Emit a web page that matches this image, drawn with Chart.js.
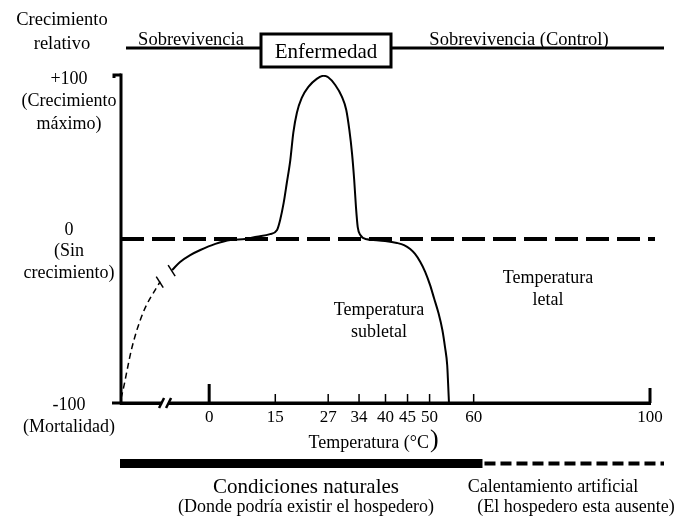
<!DOCTYPE html>
<html><head><meta charset="utf-8">
<script src="https://cdn.jsdelivr.net/npm/chart.js@4.4.0/dist/chart.umd.min.js"></script>
<style>html,body{margin:0;padding:0;background:#fff}canvas{display:block}</style>
</head><body>
<canvas id="c" width="684" height="516"></canvas>
<script>
// ---- data ----
const tickTemps = [0, 15, 27, 34, 40, 45, 50, 60, 100];
const majorTemps = [0, 100];
const growthLevels = [100, 0, -100];
const growthLabels = [["+100", "(Crecimiento", "máximo)"], ["0", "(Sin", "crecimiento)"], ["-100", "(Mortalidad)"]];
const extrapTemps = [-20, -19.7, -17.5, -15, -11.8, -11.1];
const extrapGrowth = [-97, -94, -66, -45, -29, -26];
const curveTemps = [-8.4, -6.6, -4.3, -2.0, 1.4, 4.8, 8.2, 10.8, 13.8, 15.4, 16.1, 16.9, 17.6, 18.4, 19.1, 19.9, 21.0, 22.5, 24.4, 25.9, 27.0, 28.6, 30.1, 31.1, 31.8, 32.4, 32.9, 33.3, 33.7, 34.3, 35.8, 37.2, 39.9, 42.6, 44.2, 45.6, 46.7, 47.9, 49.0, 50.1, 51.0, 52.0, 52.9, 53.5, 54.0, 54.2, 54.4];
const curveGrowth = [-18.9, -14, -9.8, -6.7, -3.0, -0.6, 0, 1.4, 3.0, 5.5, 11.6, 22, 34, 48, 65, 77, 86, 92.7, 97.6, 99.5, 98.6, 93.9, 86.8, 78.7, 66.5, 52.4, 36, 19.5, 7.3, 2.4, -0.2, -0.6, -1.2, -2.4, -3.7, -6.1, -9.1, -14, -20, -28, -36, -45, -55.5, -66, -77, -88, -100];
const xMin = -20, xMax = 100, yMin = -100, yMax = 100;
const axisBreakTemp = -10;
const naturalLimitTemp = 62;

const SERIF = '"Liberation Serif", "Times New Roman", serif';

const toPts = (xs, ys) => xs.map((x, i) => ({ x, y: ys[i] }));

const diagram = {
  id: 'diagram',
  beforeDraw(chart) {
    const c = chart.ctx;
    c.save(); c.fillStyle = '#fff'; c.fillRect(0, 0, chart.width, chart.height); c.restore();
  },
  beforeDatasetsDraw(chart) {
    const c = chart.ctx, X = chart.scales.x, Y = chart.scales.y;
    const px = v => X.getPixelForValue(v), py = v => Y.getPixelForValue(v);
    c.save();
    // zero growth dashed line
    c.strokeStyle = '#000'; c.lineWidth = 4; c.setLineDash([23, 8]);
    c.beginPath(); c.moveTo(px(xMin), py(0)); c.lineTo(px(xMax) + 5, py(0)); c.stroke();
    c.restore();
  },
  afterDatasetsDraw(chart) {
    const c = chart.ctx, X = chart.scales.x, Y = chart.scales.y;
    const px = v => X.getPixelForValue(v), py = v => Y.getPixelForValue(v);
    c.save();
    c.strokeStyle = '#000'; c.fillStyle = '#000'; c.lineCap = 'butt';
    // y axis
    c.lineWidth = 3;
    c.beginPath(); c.moveTo(px(xMin), py(yMax) - 1.5); c.lineTo(px(xMin), py(yMin) + 1.5); c.stroke();
    // top hook
    c.beginPath(); c.moveTo(px(xMin) - 7, py(yMax) + 3); c.lineTo(px(xMin) - 7, py(yMax)); c.lineTo(px(xMin), py(yMax)); c.stroke();
    // x axis line (extends slightly left of y axis)
    c.beginPath(); c.moveTo(px(xMin) - 9, py(yMin)); c.lineTo(px(xMax), py(yMin)); c.stroke();
    // ticks (pointing up)
    tickTemps.forEach(t => {
      const major = majorTemps.includes(t);
      c.lineWidth = major ? 3 : 1.5;
      const h = t === 0 ? 19 : (major ? 15 : 9);
      c.beginPath(); c.moveTo(px(t), py(yMin)); c.lineTo(px(t), py(yMin) - h); c.stroke();
    });
    // axis break
    const bx = px(axisBreakTemp), by = py(yMin);
    c.fillStyle = '#fff'; c.fillRect(bx - 3, by - 3, 6, 6);
    c.lineWidth = 2.5;
    [-3.5, 3.5].forEach(d => { c.beginPath(); c.moveTo(bx + d - 2.5, by + 5); c.lineTo(bx + d + 2.5, by - 5); c.stroke(); });
    // curve break marks
    c.lineWidth = 1.5;
    [[-11.1, -26], [-8.4, -19]].forEach(([t, g]) => {
      const x = px(t), y = py(g);
      c.beginPath(); c.moveTo(x - 4, y - 5); c.lineTo(x + 3, y + 6); c.stroke();
    });
    // y labels
    c.fillStyle = '#000'; c.textAlign = 'center'; c.textBaseline = 'middle';
    c.font = '18px ' + SERIF;
    const firstOffsets = [4, -9, 2], spacing = [22.5, 21.5, 22];
    growthLevels.forEach((lv, i) => {
      growthLabels[i].forEach((s, j) => c.fillText(s, 69, py(lv) + firstOffsets[i] + j * spacing[i]));
    });
    // x axis title
    c.font = '18px ' + SERIF; c.textAlign = 'right';
    c.fillText('Temperatura (°C', 429, 443);
    c.font = '26px ' + SERIF; c.textAlign = 'left';
    c.fillText(')', 430, 440);
    // region labels
    c.textAlign = 'center'; c.font = '18px ' + SERIF;
    c.fillText('Temperatura', 379, 310); c.fillText('subletal', 379, 332);
    c.fillText('Temperatura', 548, 278); c.fillText('letal', 548, 300);
    // top band
    c.font = '18.5px ' + SERIF;
    c.fillText('Crecimiento', 62, 20); c.fillText('relativo', 62, 44);
    c.fillText('Sobrevivencia', 191, 40);
    c.fillText('Sobrevivencia (Control)', 519, 40);
    c.lineWidth = 3;
    c.beginPath(); c.moveTo(126, 48); c.lineTo(260, 48); c.moveTo(392, 48); c.lineTo(664, 48); c.stroke();
    c.strokeRect(261, 34, 130, 33);
    c.font = '21px ' + SERIF; c.fillText('Enfermedad', 326, 52);
    // bottom band
    const natEnd = px(naturalLimitTemp);
    c.fillRect(120, 459, natEnd - 120, 9);
    c.lineWidth = 4; c.setLineDash([11, 5]);
    c.beginPath(); c.moveTo(natEnd + 2, 463.5); c.lineTo(664, 463.5); c.stroke();
    c.setLineDash([]);
    c.font = '21px ' + SERIF; c.fillText('Condiciones naturales', 306, 487);
    c.font = '18px ' + SERIF; c.fillText('(Donde podría existir el hospedero)', 306, 507);
    c.fillText('Calentamiento artificial', 553, 487);
    c.fillText('(El hospedero esta ausente)', 576, 507);
    c.restore();
  }
};

new Chart(document.getElementById('c'), {
  type: 'line',
  data: {
    datasets: [
      { data: toPts(extrapTemps, extrapGrowth), borderColor: '#000', borderWidth: 1.5, borderDash: [6, 4], pointRadius: 0, cubicInterpolationMode: 'monotone', fill: false },
      { data: toPts(curveTemps, curveGrowth), borderColor: '#000', borderWidth: 2, pointRadius: 0, cubicInterpolationMode: 'monotone', fill: false }
    ]
  },
  options: {
    responsive: false, animation: false, devicePixelRatio: 1,
    layout: { padding: { left: 121, right: 34, top: 75, bottom: 88 } },
    plugins: { legend: { display: false }, tooltip: { enabled: false } },
    scales: {
      x: {
        type: 'linear', min: xMin, max: xMax,
        afterBuildTicks: s => { s.ticks = tickTemps.map(v => ({ value: v })); },
        afterFit: s => { s.height = 25; },
        grid: { display: false, drawTicks: false },
        border: { display: true, color: '#000', width: 3 },
        ticks: { color: '#000', font: { family: SERIF, size: 17 }, padding: 4, autoSkip: false, maxRotation: 0, callback: v => String(v) }
      },
      y: { type: 'linear', min: yMin, max: yMax, display: false }
    }
  },
  plugins: [diagram]
});
</script>
</body></html>
